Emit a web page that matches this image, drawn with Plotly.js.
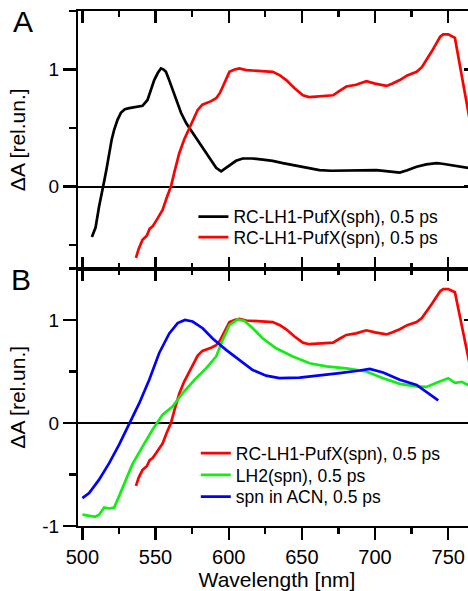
<!DOCTYPE html>
<html>
<head>
<meta charset="utf-8">
<script src="https://cdn.plot.ly/plotly-3.0.1.min.js"></script>
<style>
html,body{margin:0;padding:0;overflow:hidden;background:#fff;width:468px;height:591px;}
#chart{width:480px;height:591px;}
</style>
</head>
<body>
<div id="chart"></div>
<script>
// ---- Data ----
const sphLambda = [506.5,507.5,509,511.4,513,514.8,516.5,518.3,520,521.7,524,526.3,529,532,536,541.1,544.5,547,549.1,551.5,553.7,555.5,557.1,559,561.6,564,567.4,571,575.3,580,584.5,588,591.4,594.8,597,600.5,605,609.6,616,623.3,630,637,643,648.4,655,662,670,682.7,692,701,709,716.9,722,728.4,735,742,746,751.2,757,762.6,768];
const sphDA = [-0.43,-0.40,-0.35,-0.17,-0.08,0.04,0.15,0.285,0.40,0.485,0.57,0.63,0.66,0.67,0.68,0.69,0.74,0.83,0.91,0.97,1.01,1.0,0.98,0.92,0.83,0.74,0.63,0.54,0.46,0.38,0.30,0.23,0.16,0.13,0.15,0.185,0.22,0.24,0.24,0.23,0.22,0.20,0.185,0.17,0.155,0.14,0.135,0.135,0.14,0.14,0.13,0.12,0.14,0.17,0.19,0.20,0.195,0.185,0.175,0.16,0.15];

const spnLambda = [536.6,538.5,541.1,544,546,548,551,554.8,557.5,560.5,563,566.2,569.5,573.1,576,578.8,582,584.5,588,591.4,594,596,598.5,600.5,604,607.3,612,616.4,623,630.1,635,639.3,645,650.7,655,659.9,665,671.3,676,680.4,687,694.1,700,707.8,712,716.9,722,728.4,732,735.2,739,742,744.5,746.6,750,754.6,758,760.3,763.5,766,768];
const spnDA = [-0.61,-0.53,-0.455,-0.42,-0.36,-0.34,-0.28,-0.20,-0.10,0.0,0.13,0.285,0.40,0.50,0.59,0.655,0.70,0.71,0.73,0.755,0.80,0.855,0.93,0.98,1.0,1.01,0.995,0.99,0.985,0.98,0.95,0.91,0.84,0.78,0.765,0.77,0.77,0.78,0.82,0.855,0.87,0.90,0.88,0.86,0.88,0.91,0.95,0.98,1.02,1.08,1.16,1.225,1.28,1.30,1.30,1.27,1.03,0.855,0.63,0.48,0.38];

const lh2Lambda = [500,504.6,508.7,511.4,514.9,518.3,521.7,525.1,529.7,534.2,541.1,547.9,554.8,561.6,568.5,577.7,584.5,591.4,596,600.5,606.2,610.8,616.4,623.3,632.4,643.8,655.3,666.7,680.4,694.1,705.5,716.9,728.4,735.2,742,750,754.6,759.2,763.5,768];
const lh2DA = [-0.89,-0.90,-0.91,-0.89,-0.82,-0.83,-0.82,-0.71,-0.55,-0.40,-0.23,-0.065,0.08,0.16,0.29,0.435,0.53,0.645,0.81,0.95,1.005,0.99,0.92,0.82,0.725,0.645,0.58,0.55,0.53,0.50,0.435,0.38,0.355,0.35,0.39,0.435,0.39,0.40,0.37,0.36];

const acnLambda = [500,504.6,511.4,518.3,525.1,532,538.8,545.7,552.5,559.4,565.1,570.1,575.3,582.2,589,598.2,607.3,616.4,625.6,634.7,648.4,662.1,675.8,689.5,696.4,705.5,716.9,728.4,736.3,743.2];
const acnDA = [-0.73,-0.68,-0.55,-0.39,-0.21,-0.015,0.19,0.42,0.68,0.87,0.97,1.0,0.985,0.92,0.82,0.71,0.61,0.515,0.46,0.435,0.44,0.46,0.485,0.51,0.525,0.49,0.42,0.37,0.29,0.22];

const seriesNames = ["RC-LH1-PufX(sph), 0.5 ps","RC-LH1-PufX(spn), 0.5 ps","LH2(spn), 0.5 ps","spn in ACN, 0.5 ps"];
const xTickVals = [500,550,600,650,700,750];
const xTickText = ["500","550","600","650","700","750"];
const yTickValsA = [0,1];
const yTickTextA = ["0","1"];
const yTickValsB = [-1,0,1];
const yTickTextB = ["-1","0","1"];
const panelLabels = ["A","B"];
const xTitle = "Wavelength [nm]";
const yTitle = "ΔA [rel.un.]";

// ---- Styling ----
const FONT = "Liberation Sans, Arial, sans-serif";
const LW = 2.7;
const TW = 2.4;
const xr = [497, 769];
const yrA = [-0.7, 1.5];
const yrB = [-1, 1.5];

// Overlay axes (x3, y3, y4) share the ranges of the panel axes; they only carry the inward ticks
const traces = [
  {x: sphLambda, y: sphDA, name: seriesNames[0], xaxis:'x', yaxis:'y', mode:'lines', line:{color:'#000000', width:LW}, legend:'legend'},
  {x: spnLambda, y: spnDA, name: seriesNames[1], xaxis:'x', yaxis:'y3', mode:'lines', line:{color:'#ff0000', width:LW}, legend:'legend2'},
  {x: spnLambda, y: spnDA, name: seriesNames[1], xaxis:'x2', yaxis:'y2', mode:'lines', line:{color:'#ff0000', width:LW}, legend:'legend3'},
  {x: lh2Lambda, y: lh2DA, name: seriesNames[2], xaxis:'x2', yaxis:'y4', mode:'lines', line:{color:'#11ee11', width:LW}, legend:'legend4'},
  {x: acnLambda, y: acnDA, name: seriesNames[3], xaxis:'x3', yaxis:'y2', mode:'lines', line:{color:'#0000ff', width:LW}, legend:'legend5'}
];

const axCommon = {showline:true, linecolor:'#000', linewidth:2, tickcolor:'#000', tickwidth:TW, showgrid:false, zeroline:false};
const yTickFont = {family:FONT, size:19, color:'#000'};
const titleFont = {family:FONT, size:21, color:'#000'};
const legFont = {family:FONT, size:17.5, color:'#000'};
function leg(x, y){ return {x:x, y:y, xanchor:'left', yanchor:'middle', bgcolor:'rgba(0,0,0,0)', borderwidth:0, font:legFont}; }
const overlayTicks = {showticklabels:false, ticks:'inside', ticklen:12, tickwidth:TW, tickcolor:'#000', showline:false, showgrid:false, zeroline:false};
function minorX(dir){ return {dtick:25, tick0:500, ticks:dir, ticklen:6, tickwidth:TW, tickcolor:'#000'}; }
const minorY = {dtick:0.5, tick0:0, ticks:'outside', ticklen:7, tickwidth:TW, tickcolor:'#000'};

const layout = {
  width:480, height:591,
  margin:{l:78, r:4, t:11, b:65, pad:0},
  paper_bgcolor:'#fff', plot_bgcolor:'#fff',
  font:{family:FONT, color:'#000'},
  showlegend:true,
  xaxis: Object.assign({}, axCommon, {anchor:'y', range:xr, tickmode:'array', tickvals:xTickVals, ticktext:xTickText, showticklabels:false,
    ticks:'inside', ticklen:12, mirror:'ticks', minor:minorX('inside')}),
  yaxis: Object.assign({}, axCommon, {anchor:'x', domain:[0.5,1], range:yrA, tickmode:'array', tickvals:yTickValsA, ticktext:yTickTextA,
    ticks:'outside', ticklen:13, mirror:true, tickfont:yTickFont,
    zeroline:true, zerolinecolor:'#000', zerolinewidth:2, minor:minorY,
    title:{text:yTitle, font:titleFont}}),
  xaxis2: Object.assign({}, axCommon, {anchor:'y2', range:xr, tickmode:'array', tickvals:xTickVals, ticktext:xTickText,
    ticks:'outside', ticklen:12, mirror:true, tickfont:{family:FONT, size:20, color:'#000'}, minor:minorX('outside'),
    title:{text:xTitle, font:titleFont, standoff:2}}),
  yaxis2: Object.assign({}, axCommon, {anchor:'x2', domain:[0,0.5], range:yrB, tickmode:'array', tickvals:yTickValsB, ticktext:yTickTextB,
    ticks:'outside', ticklen:13, mirror:true, tickfont:yTickFont,
    zeroline:true, zerolinecolor:'#000', zerolinewidth:2, minor:minorY,
    title:{text:yTitle, font:titleFont}}),
  xaxis3: Object.assign({}, overlayTicks, {overlaying:'x2', anchor:'y2', side:'top', range:xr, tickmode:'array', tickvals:xTickVals, minor:minorX('inside')}),
  yaxis3: Object.assign({}, overlayTicks, {overlaying:'y', anchor:'x', side:'right', range:yrA, tickmode:'array', tickvals:yTickValsA}),
  yaxis4: Object.assign({}, overlayTicks, {overlaying:'y2', anchor:'x2', side:'right', range:yrB, tickmode:'array', tickvals:yTickValsB}),
  legend: leg(0.29, 0.6006),
  legend2: leg(0.29, 0.5606),
  legend3: leg(0.296, 0.1411),
  legend4: leg(0.296, 0.0990),
  legend5: leg(0.296, 0.0569),
  annotations:[
    {text:panelLabels[0], xref:'paper', yref:'paper', x:-0.138, y:0.979, xanchor:'center', yanchor:'middle', showarrow:false, font:{family:FONT, size:30, color:'#000'}},
    {text:panelLabels[1], xref:'paper', yref:'paper', x:-0.143, y:0.478, xanchor:'center', yanchor:'middle', showarrow:false, font:{family:FONT, size:30, color:'#000'}}
  ]
};

Plotly.newPlot('chart', traces, layout, {staticPlot:true, displayModeBar:false});
</script>
</body>
</html>
